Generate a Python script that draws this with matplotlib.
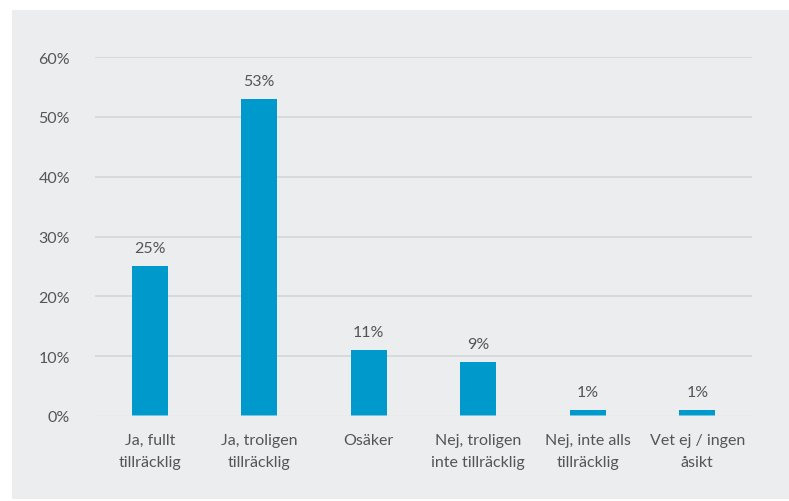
import matplotlib
matplotlib.use("Agg")
import matplotlib.pyplot as plt
from matplotlib.patches import Rectangle

categories = ["Ja, fullt\ntillräcklig", "Ja, troligen\ntillräcklig", "Osäker",
              "Nej, troligen\ninte tillräcklig", "Nej, inte alls\ntillräcklig",
              "Vet ej / ingen\nåsikt"]
values = [25, 53, 11, 9, 1, 1]
yticks = [0, 10, 20, 30, 40, 50, 60]
ytick_labels = ["0%", "10%", "20%", "30%", "40%", "50%", "60%"]

W, H = 789, 502
fig = plt.figure(figsize=(W / 100, H / 100), dpi=100, facecolor="white")
fig.patches.append(Rectangle((12 / W, 2 / H), 1 - 12 / W, (500 - 11) / H,
                             transform=fig.transFigure, facecolor="#ecedef",
                             edgecolor="none", zorder=-10))

ax = fig.add_axes([95 / W, (H - 417) / H, (752 - 95) / W, (417 - 58) / H])
ax.set_facecolor("none")
font = "Lato"
tc = "#555555"

x = list(range(len(categories)))
ax.bar(x, values, width=0.33, color="#0099cc", zorder=3)
ax.set_xlim(-0.5, len(categories) - 0.5)
ax.set_ylim(0, 60)
ax.set_yticks(yticks)
ax.set_yticklabels(ytick_labels, family=font, fontsize=11.5, color=tc)
ax.set_xticks(x)
ax.set_xticklabels(categories, family=font, fontsize=11.5, color=tc, linespacing=1.75)
ax.tick_params(axis="both", length=0)
ax.tick_params(axis="y", pad=18)
ax.tick_params(axis="x", pad=12)
ax.grid(axis="y", color="#d6d7d9", linewidth=1.3, zorder=1)
ax.axhline(0, color="white", alpha=0.45, linewidth=1.5, zorder=4)
for s in ax.spines.values():
    s.set_visible(False)
ax.set_axisbelow(True)

for xi, v in zip(x, values):
    ax.annotate(f"{v}%", (xi, v), xytext=(0, 8), textcoords="offset points",
                ha="center", va="bottom", family=font, fontsize=11.5, color=tc)

fig.savefig("out.png", dpi=100, facecolor="white")
